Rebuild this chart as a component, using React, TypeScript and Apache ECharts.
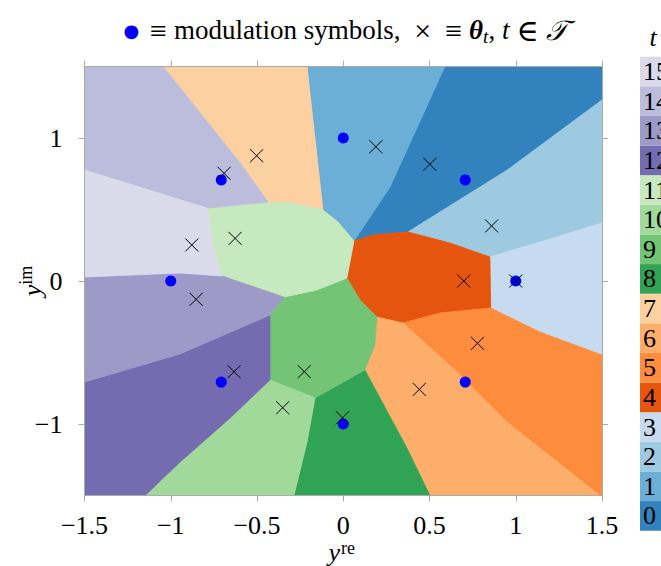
import React, { useEffect, useRef } from "react";
import * as echarts from "echarts";

// tab20c colours for t = 0..15
const COLORS = [
  "#3182bd", "#6baed6", "#9ecae1", "#c6dbef",
  "#e6550d", "#fd8d3c", "#fdae6b", "#fdd0a2",
  "#31a354", "#74c476", "#a1d99b", "#c7e9c0",
  "#756bb1", "#9e9ac8", "#bcbddc", "#dadaeb",
];
const T_LABELS = ["0", "1", "2", "3", "4", "5", "6", "7", "8", "9", "10", "11", "12", "13", "14", "15"];

// 8-PSK modulation symbols
const SYMBOLS: number[][] = [
  [1, 0], [0.7071, 0.7071], [0, 1], [-0.7071, 0.7071],
  [-1, 0], [-0.7071, -0.7071], [0, -1], [0.7071, -0.7071],
];

// theta_t, index t
const THETA: number[][] = [
  [0.502, 0.816], [0.189, 0.939], [0.860, 0.385], [1.0, 0.0],
  [0.699, 0.0], [0.778, -0.436], [0.441, -0.758], [-0.502, 0.876],
  [-0.004, -0.956], [-0.226, -0.634], [-0.351, -0.886], [-0.627, 0.298],
  [-0.633, -0.634], [-0.853, -0.128], [-0.691, 0.753], [-0.878, 0.252],
];

// decision regions (polygon vertices in data space), index t
const REGIONS: number[][][] = [
  [[0.589, 1.5], [1.5, 1.5], [1.5, 1.266], [0.951, 0.776], [0.375, 0.343], [0.172, 0.322], [0.062, 0.280], [0.271, 0.657]],
  [[-0.210, 1.5], [0.589, 1.5], [0.271, 0.657], [0.062, 0.280], [-0.031, 0.413], [-0.118, 0.497]],
  [[1.5, 1.266], [1.5, 0.406], [1.180, 0.287], [0.850, 0.168], [0.618, 0.266], [0.375, 0.343], [0.951, 0.776]],
  [[1.5, 0.406], [1.5, -0.517], [1.140, -0.357], [0.855, -0.189], [0.850, 0.168], [1.180, 0.287]],
  [[0.062, 0.280], [0.172, 0.322], [0.375, 0.343], [0.618, 0.266], [0.850, 0.168], [0.855, -0.189], [0.560, -0.224], [0.346, -0.294], [0.195, -0.252], [0.097, -0.133], [0.021, 0.021]],
  [[0.855, -0.189], [1.140, -0.357], [1.5, -0.517], [1.5, -1.5], [1.487, -1.5], [0.948, -0.986], [0.659, -0.636], [0.346, -0.294], [0.560, -0.224]],
  [[0.346, -0.294], [0.659, -0.636], [0.948, -0.986], [1.487, -1.5], [0.502, -1.5], [0.369, -1.168], [0.172, -0.727], [0.125, -0.622], [0.183, -0.448], [0.195, -0.252]],
  [[-1.045, 1.5], [-0.210, 1.5], [-0.118, 0.497], [-0.290, 0.545], [-0.436, 0.552], [-0.598, 0.825]],
  [[0.125, -0.622], [0.172, -0.727], [0.369, -1.168], [0.502, -1.5], [-0.286, -1.5], [-0.210, -1.126], [-0.164, -0.818]],
  [[0.021, 0.021], [0.097, -0.133], [0.195, -0.252], [0.183, -0.448], [0.125, -0.622], [-0.164, -0.818], [-0.425, -0.692], [-0.425, -0.238], [-0.344, -0.112], [-0.153, -0.063]],
  [[-0.425, -0.692], [-0.164, -0.818], [-0.210, -1.126], [-0.286, -1.5], [-1.149, -1.5], [-0.946, -1.266], [-0.656, -0.958]],
  [[-0.790, 0.510], [-0.436, 0.552], [-0.290, 0.545], [-0.118, 0.497], [-0.031, 0.413], [0.062, 0.280], [0.021, 0.021], [-0.153, -0.063], [-0.344, -0.112], [-0.703, 0.035], [-0.755, 0.238]],
  [[-1.5, -0.706], [-0.946, -0.510], [-0.425, -0.238], [-0.425, -0.692], [-0.656, -0.958], [-0.946, -1.266], [-1.149, -1.5], [-1.5, -1.5]],
  [[-1.5, 0.028], [-0.946, 0.056], [-0.703, 0.035], [-0.344, -0.112], [-0.425, -0.238], [-0.946, -0.510], [-1.5, -0.706]],
  [[-1.5, 1.5], [-1.045, 1.5], [-0.598, 0.825], [-0.436, 0.552], [-0.790, 0.510], [-1.5, 0.776]],
  [[-1.5, 0.776], [-0.790, 0.510], [-0.755, 0.238], [-0.703, 0.035], [-0.946, 0.056], [-1.5, 0.028]],
];

const X_TICKS = [-1.5, -1, -0.5, 0, 0.5, 1, 1.5];
const Y_TICKS = [-1, 0, 1];

const FONT = '"Liberation Serif", "DejaVu Serif", serif';
const AXIS_COLOR = "#aaaaaa";
const fmt = (v: number) => (v < 0 ? "\u2212" : "") + String(Math.abs(v));

export default function App() {
  const ref = useRef<HTMLDivElement>(null);
  useEffect(() => {
    document.body.style.margin = "0";
    const chart = echarts.init(ref.current!, null, { renderer: "svg" });
    const lineStyle = { color: AXIS_COLOR, width: 1 };
    const baseX = {
      type: "value", gridIndex: 0, min: -1.5, max: 1.5, interval: 0.5, z: 10,
      axisLine: { show: true, onZero: false, lineStyle },
      axisTick: { show: true, inside: false, length: 6, lineStyle, customValues: X_TICKS },
      splitLine: { show: false },
    };
    const baseY = {
      type: "value", gridIndex: 0, min: -1.5, max: 1.5, z: 10,
      axisLine: { show: true, onZero: false, lineStyle },
      axisTick: { show: true, inside: false, length: 6, lineStyle, customValues: Y_TICKS },
      splitLine: { show: false },
    };
    const op = { fontSize: 30, fontFamily: FONT, fill: "#000", padding: [0, 7, 0, 7] };
    const option: any = {
      animation: false,
      grid: [
        { left: 84.5, top: 66.5, width: 517.5, height: 429 },
        { left: 640, top: 56.7, width: 40, height: 474 },
      ],
      xAxis: [
        { ...baseX, position: "bottom",
          axisLabel: { customValues: X_TICKS, formatter: fmt, fontSize: 26, lineHeight: 24, fontFamily: FONT, color: "#000", margin: 18 } },
        { ...baseX, position: "top", axisLabel: { show: false } },
        { type: "value", gridIndex: 1, min: 0, max: 1, show: false },
      ],
      yAxis: [
        { ...baseY, position: "left",
          axisLabel: { customValues: Y_TICKS, formatter: fmt, fontSize: 26, fontFamily: FONT, color: "#000", margin: 22 } },
        { ...baseY, position: "right", axisLabel: { show: false } },
        { type: "category", gridIndex: 1, data: T_LABELS, z: 10,
          axisLine: { show: false }, axisTick: { show: false }, splitLine: { show: false },
          axisLabel: { inside: true, interval: 0, margin: 3, fontSize: 26, fontFamily: FONT, color: "#000" } },
      ],
      series: [
        {
          type: "custom", xAxisIndex: 0, yAxisIndex: 0, clip: true, z: 1,
          data: REGIONS.map((p) => [p[0][0], p[0][1]]),
          renderItem: (params: any, api: any) => {
            const t = params.dataIndex;
            const pts = REGIONS[t].map((p) => api.coord(p));
            return {
              type: "polygon",
              shape: { points: pts },
              style: { fill: COLORS[t], stroke: COLORS[t], lineWidth: 0.8 },
            };
          },
        },
        {
          type: "scatter", xAxisIndex: 0, yAxisIndex: 0, z: 3,
          data: SYMBOLS, symbol: "circle", symbolSize: 11,
          itemStyle: { color: "#0000ff", opacity: 1 },
        },
        {
          type: "custom", xAxisIndex: 0, yAxisIndex: 0, z: 4,
          data: THETA,
          renderItem: (params: any, api: any) => {
            const c = api.coord([api.value(0), api.value(1)]);
            const h = 6.5;
            const st = { stroke: "#000", lineWidth: 1 };
            return {
              type: "group",
              children: [
                { type: "line", shape: { x1: c[0] - h, y1: c[1] - h, x2: c[0] + h, y2: c[1] + h }, style: st },
                { type: "line", shape: { x1: c[0] - h, y1: c[1] + h, x2: c[0] + h, y2: c[1] - h }, style: st },
              ],
            };
          },
        },
        {
          type: "bar", xAxisIndex: 2, yAxisIndex: 2, barCategoryGap: "0%", z: 2,
          data: T_LABELS.map((_, i) => ({ value: 1, itemStyle: { color: COLORS[i] } })),
        },
      ],
      graphic: [
        {
          type: "text", x: 345, y: 30,
          style: {
            text: "{dot|\u25CF}{op|\u2261}modulation symbols, {op|\u00D7}{op|\u2261}{th|\u03B8}{sub|t}, {it|t}{op|\u2208}{cal|\uD835\uDCAF}",
            align: "center", verticalAlign: "middle",
            fontSize: 27, fontFamily: FONT, fill: "#000",
            rich: {
              dot: { fontSize: 18, fill: "#0000ff", fontFamily: '"DejaVu Sans", sans-serif', padding: [0, 4, 0, 0] },
              op,
              th: { fontSize: 27, fontWeight: "bold", fontStyle: "italic", fontFamily: FONT },
              sub: { fontSize: 19, fontStyle: "italic", fontFamily: FONT, padding: [12, 0, 0, 0] },
              it: { fontSize: 27, fontStyle: "italic", fontFamily: FONT },
              cal: { fontSize: 28, fontStyle: "italic", fontFamily: '"DejaVu Serif", "DejaVu Sans", serif' },
            },
          },
        },
        {
          type: "text", x: 653, y: 37,
          style: { text: "t", align: "center", verticalAlign: "middle", fontSize: 26, fontStyle: "italic", fontFamily: FONT, fill: "#000" },
        },
        {
          type: "text", x: 340, y: 552,
          style: { text: "y", align: "right", verticalAlign: "middle", fontSize: 26, lineHeight: 20, fontStyle: "italic", fontFamily: FONT, fill: "#000" },
        },
        {
          type: "text", x: 341, y: 548,
          style: { text: "re", align: "left", verticalAlign: "middle", fontSize: 18, lineHeight: 14, fontFamily: FONT, fill: "#000" },
        },
        {
          type: "text", x: 32, y: 281, rotation: Math.PI / 2,
          style: {
            text: "{i|y}{sup|im}", align: "center", verticalAlign: "middle", fontFamily: FONT, fill: "#000",
            rich: {
              i: { fontSize: 26, fontStyle: "italic", fontFamily: FONT },
              sup: { fontSize: 18, fontFamily: FONT, padding: [0, 0, 12, 0] },
            },
          },
        },
      ],
    };
    chart.setOption(option);
    return () => chart.dispose();
  }, []);
  return <div ref={ref} style={{ width: 661, height: 566 }} />;
}
